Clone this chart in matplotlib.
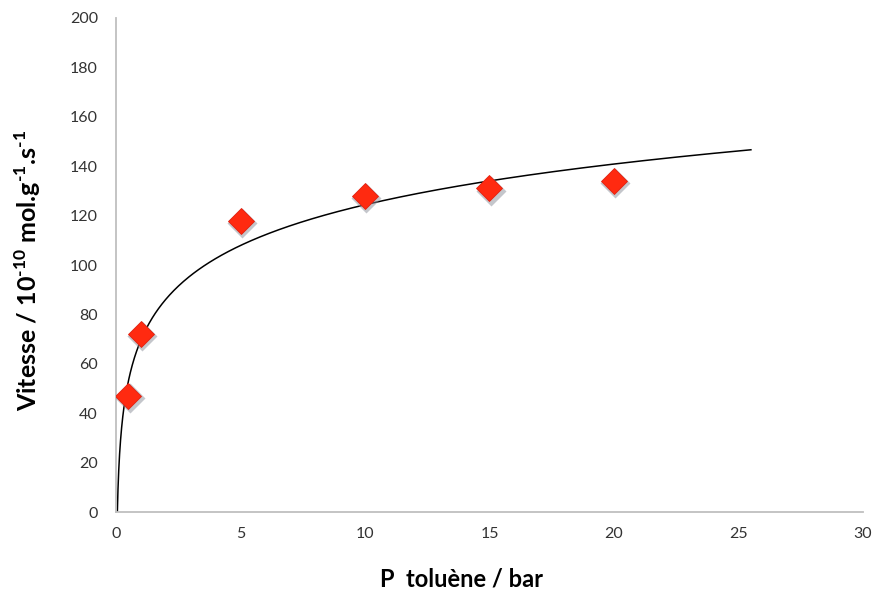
import numpy as np
import matplotlib
matplotlib.use("Agg")
import matplotlib.pyplot as plt
import matplotlib.transforms as mtransforms

# measured points (pressure in bar, rate in 1e-10 mol/g/s)
p_toluene = [0.5, 1, 5, 10, 15, 20]
vitesse = [47, 72, 118, 128, 131, 134]
x_ticks = [0, 5, 10, 15, 20, 25, 30]
y_ticks = [0, 20, 40, 60, 80, 100, 120, 140, 160, 180, 200]

# logarithmic trendline fitted on the points, extended forward to 25.5 bar
a, b = np.polyfit(np.log(p_toluene), vitesse, 1)
x_start = np.exp(-b / a)
x_fit = np.geomspace(x_start, 25.5, 400)
y_fit = a * np.log(x_fit) + b

plt.rcParams["font.family"] = ["Lato", "DejaVu Sans"]
plt.rcParams["mathtext.fontset"] = "custom"
plt.rcParams["mathtext.rm"] = "Lato:bold"
plt.rcParams["mathtext.bf"] = "Lato:bold"

fig = plt.figure(figsize=(8.73, 5.92), dpi=100)
ax = fig.add_axes([0.1329, 0.1351, 0.8556, 0.8345])

ax.plot(x_fit, y_fit, color="black", lw=1.1, zorder=2)

shadow = mtransforms.offset_copy(ax.transData, fig=fig, x=1.0, y=-1.6, units="points")
ax.plot(p_toluene, vitesse, "D", ms=15, color="#8a8f99", alpha=0.5,
        mec="none", transform=shadow, zorder=3)
ax.plot(p_toluene, vitesse, "D", ms=13.5, color="#ff2a10", mec="#e02010",
        mew=0.6, zorder=4)

ax.set_xlim(0, 30)
ax.set_ylim(0, 200)
ax.set_xticks(x_ticks)
ax.set_yticks(y_ticks)
ax.tick_params(length=0, labelsize=11.5, colors="#333333")
ax.tick_params(axis="y", pad=13)
ax.tick_params(axis="x", pad=11)

for side in ["top", "right"]:
    ax.spines[side].set_visible(False)
for side in ["left", "bottom"]:
    ax.spines[side].set_color("#bfbfbf")
    ax.spines[side].set_linewidth(1.3)

ax.set_xlabel("P  toluène / bar", fontsize=17, fontweight="bold")
ax.xaxis.set_label_coords(0.462, -0.113)
ax.set_ylabel(r"Vitesse / 10$^{\text{-10}}$ mol.g$^{\text{-1}}$.s$^{\text{-1}}$",
              fontsize=18, fontweight="bold")
ax.yaxis.set_label_coords(-0.098, 0.49)

fig.savefig("out.png", dpi=100)
